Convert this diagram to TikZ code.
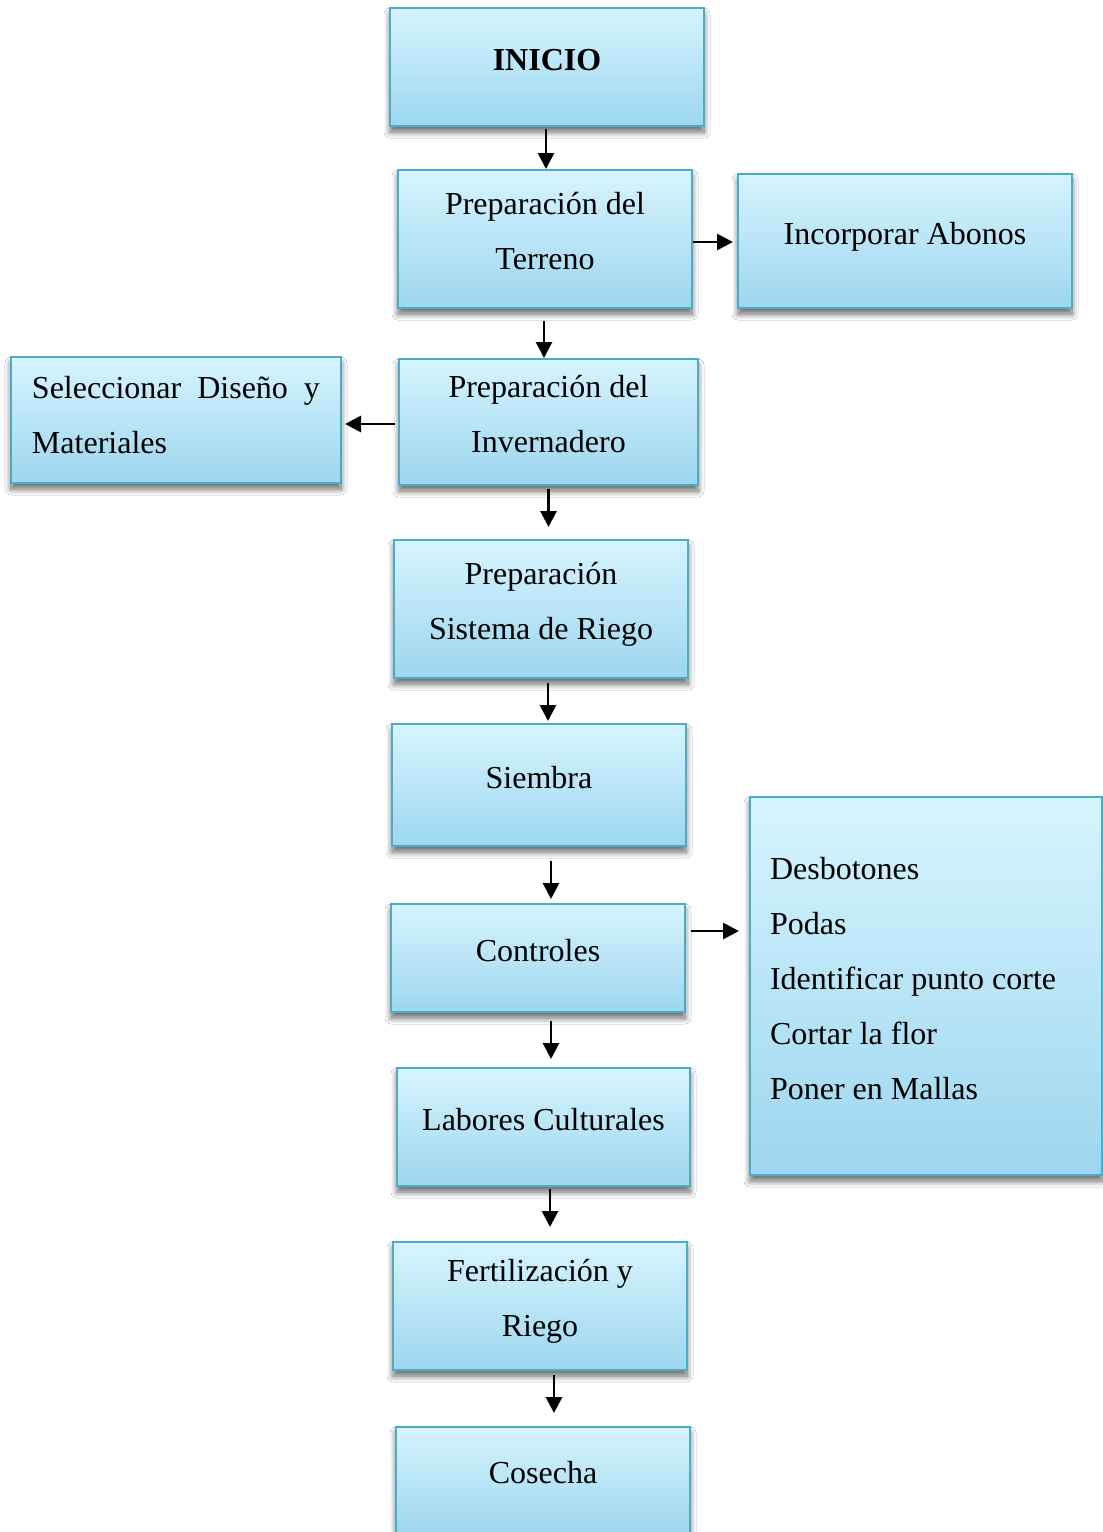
\documentclass[tikz,border=0pt]{standalone}
\usepackage{fontspec}
\setmainfont{Liberation Serif}
\usetikzlibrary{arrows.meta,shadows.blur}
\definecolor{bxtop}{HTML}{D6F4FE}
\definecolor{bxbot}{HTML}{9DD6EF}
\definecolor{bxline}{HTML}{4BACC6}
\newcommand\lbl[1]{\raisebox{4pt}[\height][\depth]{\begin{tabular}{@{}c@{}}#1\end{tabular}}}
\tikzset{
  box/.style={draw=bxline, line width=1pt, top color=bxtop, bottom color=bxbot,
    inner sep=0pt,
    font=\fontsize{16pt}{27.5pt}\selectfont,
    blur shadow={shadow xshift=0pt, shadow yshift=-3pt, shadow blur radius=3pt, shadow blur steps=10, shadow opacity=60}},
  arr/.style={line width=1.4pt, -{Triangle[length=8pt,width=8pt]}}
}
\begin{document}
\begin{tikzpicture}[x=0.5pt,y=-0.5pt]
\clip (0,0) rectangle (1103,1532);
\useasboundingbox (0,0) rectangle (1103,1532);
\fill[white] (0,0) rectangle (1103,1532);
% boxes
\node[box, minimum width=157pt, minimum height=59pt] (inicio) at (547,67) {\lbl{\textbf{INICIO}}};
\node[box, minimum width=147pt, minimum height=69pt] (terreno) at (545,239) {\lbl{Preparación del\\Terreno}};
\node[box, minimum width=167pt, minimum height=67pt] (abonos) at (905,241) {\lbl{Incorporar Abonos}};
\node[box, minimum width=165pt, minimum height=63pt] (selec) at (176,420) {\raisebox{2.5pt}[\height][\depth]{\parbox{144pt}{\hyphenpenalty=10000\strut Seleccionar Diseño y Materiales\strut}}};
\node[box, minimum width=149.5pt, minimum height=63pt] (inver) at (548.5,422) {\lbl{Preparación del\\Invernadero}};
\node[box, minimum width=147pt, minimum height=69pt] (riego) at (541,609) {\lbl{Preparación\\Sistema de Riego}};
\node[box, minimum width=147pt, minimum height=61pt] (siembra) at (539,785) {\lbl{Siembra}};
\node[box, minimum width=147pt, minimum height=54pt] (controles) at (538,958) {\lbl{Controles}};
\node[box, minimum width=176pt, minimum height=189pt] (lista) at (926,986) {\makebox[156pt][l]{\raisebox{4pt}[\height][\depth]{\begin{tabular}{@{}l@{}}Desbotones\\Podas\\Identificar punto corte\\Cortar la flor\\Poner en Mallas\end{tabular}}}};
\node[box, minimum width=146.5pt, minimum height=59pt] (labores) at (543.5,1127) {\lbl{Labores Culturales}};
\node[box, minimum width=147pt, minimum height=64pt] (fert) at (540,1306) {\lbl{Fertilización y\\Riego}};
\node[box, minimum width=147pt, minimum height=53pt] (cosecha) at (543,1480) {\lbl{Cosecha}};
% arrow start points
\path ([xshift=-0.5pt,yshift=-1pt]inicio.south) coordinate (a1);
\path ([xshift=-0.5pt,yshift=-6pt]terreno.south) coordinate (a2);
\path ([xshift=0pt,yshift=-1.5pt]inver.south) coordinate (a3);
\path ([xshift=3.5pt,yshift=-2pt]riego.south) coordinate (a4);
\path ([xshift=6pt,yshift=-7pt]siembra.south) coordinate (a5);
\path ([xshift=6.5pt,yshift=-4pt]controles.south) coordinate (a6);
\path ([xshift=3.25pt,yshift=-1pt]labores.south) coordinate (a7);
\path ([xshift=7pt,yshift=-2pt]fert.south) coordinate (a8);
\path ([yshift=-1.5pt]terreno.east) coordinate (h1);
\path ([xshift=-1.5pt,yshift=-1pt]inver.west) coordinate (h2);
\path ([xshift=2.5pt,yshift=13.5pt]controles.east) coordinate (h3);
% connectors
\draw[arr] (a1) -- (a1 |- terreno.north);
\draw[arr] (a2) -- (a2 |- inver.north);
\draw[arr, shorten >=6pt] (a3) -- (a3 |- riego.north);
\draw[arr, shorten >=1pt] (a4) -- (a4 |- siembra.north);
\draw[arr, shorten >=2pt] (a5) -- (a5 |- controles.north);
\draw[arr, shorten >=4pt] (a6) -- (a6 |- labores.north);
\draw[arr, shorten >=7pt] (a7) -- (a7 |- fert.north);
\draw[arr, shorten >=6.5pt] (a8) -- (a8 |- cosecha.north);
\draw[arr, shorten >=2pt] (h1) -- (h1 -| abonos.west);
\draw[arr, shorten >=1.5pt] (h2) -- (h2 -| selec.east);
\draw[arr, shorten >=5pt] (h3) -- (h3 -| lista.west);
\end{tikzpicture}
\end{document}
